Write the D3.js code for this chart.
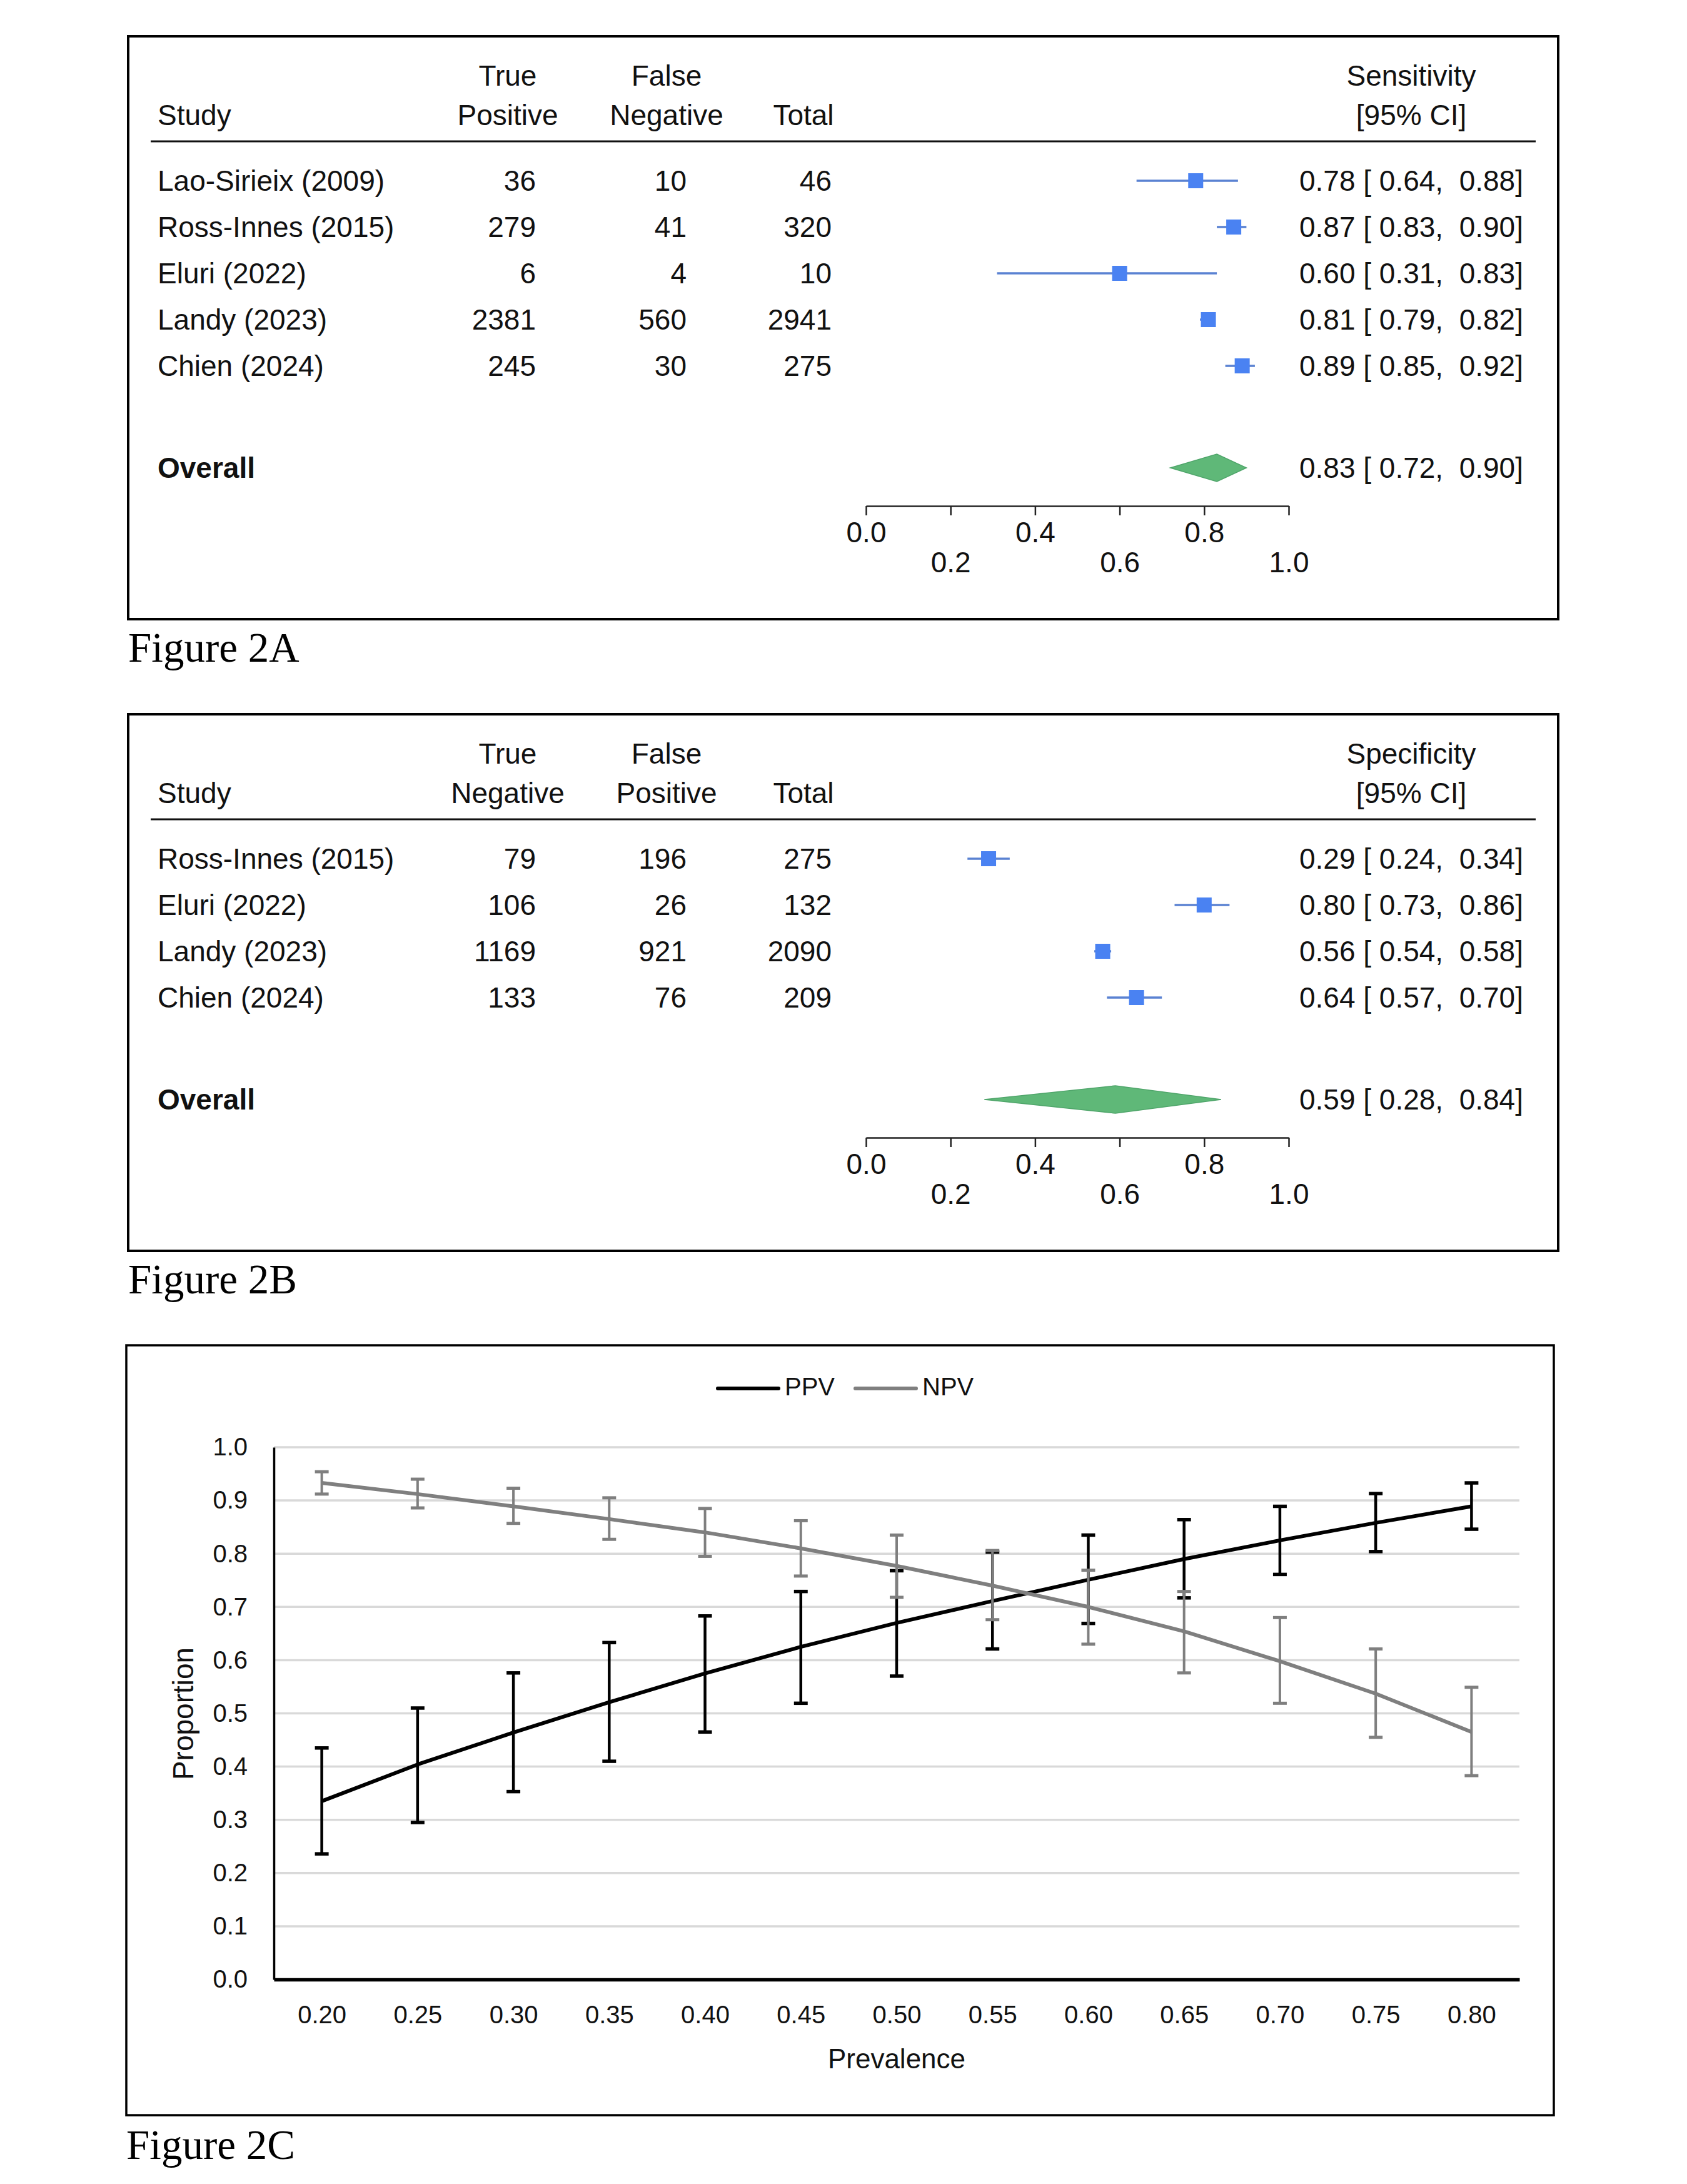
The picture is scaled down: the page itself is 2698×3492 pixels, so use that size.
<!DOCTYPE html>
<meta charset="utf-8">
<style>
body { margin: 0; background: #fff; }
svg { display: block; font-family: "Liberation Sans", Arial, Helvetica, sans-serif; }
.cell { font-size: 46px; fill: #111; }
.ci { white-space: pre; }
.caption { font-family: "Liberation Serif", "Times New Roman", serif; font-size: 67px; fill: #000; }
.faxis path, .faxis line { stroke: #222; stroke-width: 2.5px; }
.faxis text { font-size: 46px; fill: #111; }
.caxis text { font-size: 40px; fill: #111; }
</style>
<svg width="2698" height="3492"></svg>
<script src="https://d3js.org/d3.v7.min.js"></script>
<script>

// ---- Figure 2A: sensitivity ----
var sensStudies = ["Lao-Sirieix (2009)", "Ross-Innes (2015)", "Eluri (2022)", "Landy (2023)", "Chien (2024)"];
var sensTP = [36, 279, 6, 2381, 245];
var sensFN = [10, 41, 4, 560, 30];
var sensTotal = [46, 320, 10, 2941, 275];
var sensEst = [0.78, 0.87, 0.60, 0.81, 0.89];
var sensLo = [0.64, 0.83, 0.31, 0.79, 0.85];
var sensHi = [0.88, 0.90, 0.83, 0.82, 0.92];
var sensOverall = [0.83, 0.72, 0.90];

// ---- Figure 2B: specificity ----
var specStudies = ["Ross-Innes (2015)", "Eluri (2022)", "Landy (2023)", "Chien (2024)"];
var specTN = [79, 106, 1169, 133];
var specFP = [196, 26, 921, 76];
var specTotal = [275, 132, 2090, 209];
var specEst = [0.29, 0.80, 0.56, 0.64];
var specLo = [0.24, 0.73, 0.54, 0.57];
var specHi = [0.34, 0.86, 0.58, 0.70];
var specOverall = [0.59, 0.28, 0.84];

var forestTicks = [0, 0.2, 0.4, 0.6, 0.8, 1.0];

// ---- Figure 2C: PPV / NPV by prevalence ----
var prevalence = ["0.20", "0.25", "0.30", "0.35", "0.40", "0.45", "0.50", "0.55", "0.60", "0.65", "0.70", "0.75", "0.80"];
var ppv   = [0.335, 0.404, 0.464, 0.521, 0.575, 0.625, 0.670, 0.711, 0.751, 0.790, 0.825, 0.858, 0.889];
var ppvLo = [0.236, 0.295, 0.353, 0.410, 0.465, 0.519, 0.570, 0.621, 0.669, 0.717, 0.761, 0.804, 0.846];
var ppvHi = [0.435, 0.510, 0.576, 0.633, 0.683, 0.729, 0.768, 0.803, 0.835, 0.864, 0.889, 0.913, 0.933];
var npv   = [0.933, 0.912, 0.889, 0.865, 0.840, 0.810, 0.777, 0.740, 0.700, 0.654, 0.598, 0.537, 0.465];
var npvLo = [0.912, 0.886, 0.857, 0.827, 0.795, 0.758, 0.718, 0.676, 0.630, 0.576, 0.519, 0.455, 0.383];
var npvHi = [0.954, 0.940, 0.923, 0.905, 0.885, 0.862, 0.835, 0.806, 0.769, 0.729, 0.680, 0.621, 0.549];
var yTicks = [0, 0.1, 0.2, 0.3, 0.4, 0.5, 0.6, 0.7, 0.8, 0.9, 1.0];

var svg = d3.select("svg");
svg.append("rect").attr("width", 2698).attr("height", 3492).attr("fill", "#fff");

var f2 = d3.format(".2f");

function forest(top, o) {
  var g = svg.append("g");
  var header = top + 168,
      rowStep = 74,
      firstRow = header + 63,
      lastRow = firstRow + (o.studies.length - 1) * rowStep,
      overallY = lastRow + 163,
      axisY = overallY + 61,
      bottom = axisY + 181;

  var x = d3.scaleLinear().domain([0, 1]).range([1385, 2061]);

  g.append("rect")
      .attr("x", 205).attr("y", top)
      .attr("width", 2492 - 205).attr("height", bottom - top)
      .attr("fill", "none").attr("stroke", "#000").attr("stroke-width", 4);

  // headers
  var h1 = header - 89, h2 = header - 26;
  g.append("text").attr("class", "cell").attr("x", 252).attr("y", h2).text("Study");
  [[812, o.h[0]], [1066, o.h[1]]].forEach(function(c) {
    g.append("text").attr("class", "cell").attr("x", c[0]).attr("y", h1).attr("text-anchor", "middle").text(c[1][0]);
    g.append("text").attr("class", "cell").attr("x", c[0]).attr("y", h2).attr("text-anchor", "middle").text(c[1][1]);
  });
  g.append("text").attr("class", "cell").attr("x", 1285).attr("y", h2).attr("text-anchor", "middle").text("Total");
  g.append("text").attr("class", "cell").attr("x", 2257).attr("y", h1).attr("text-anchor", "middle").text(o.measure);
  g.append("text").attr("class", "cell").attr("x", 2257).attr("y", h2).attr("text-anchor", "middle").text("[95% CI]");

  g.append("line")
      .attr("x1", 241).attr("x2", 2456).attr("y1", header).attr("y2", header)
      .attr("stroke", "#111").attr("stroke-width", 3);

  var rows = o.studies.map(function(s, i) {
    return {study: s, a: o.a[i], b: o.b[i], total: o.total[i], est: o.est[i], lo: o.lo[i], hi: o.hi[i],
            y: firstRow + i * rowStep};
  });

  var r = g.selectAll(".row").data(rows).enter().append("g").attr("class", "row");
  r.append("text").attr("class", "cell").attr("x", 252).attr("y", function(d) { return d.y + 16; }).text(function(d) { return d.study; });
  r.append("text").attr("class", "cell").attr("x", 857).attr("y", function(d) { return d.y + 16; }).attr("text-anchor", "end").text(function(d) { return d.a; });
  r.append("text").attr("class", "cell").attr("x", 1098).attr("y", function(d) { return d.y + 16; }).attr("text-anchor", "end").text(function(d) { return d.b; });
  r.append("text").attr("class", "cell").attr("x", 1330).attr("y", function(d) { return d.y + 16; }).attr("text-anchor", "end").text(function(d) { return d.total; });
  r.append("line")
      .attr("x1", function(d) { return x(d.lo); })
      .attr("x2", function(d) { return x(d.hi); })
      .attr("y1", function(d) { return d.y; })
      .attr("y2", function(d) { return d.y; })
      .attr("stroke", "#5a82d2").attr("stroke-width", 3.5);
  r.append("rect")
      .attr("x", function(d) { return x(d.est) - 12; })
      .attr("y", function(d) { return d.y - 12; })
      .attr("width", 24).attr("height", 24)
      .attr("fill", "#4a82f2");
  r.append("text").attr("class", "cell ci").attr("x", 2436).attr("y", function(d) { return d.y + 16; })
      .attr("text-anchor", "end")
      .text(function(d) { return f2(d.est) + " [ " + f2(d.lo) + ",  " + f2(d.hi) + "]"; });

  // overall
  var ov = o.overall;
  g.append("text").attr("class", "cell").attr("x", 252).attr("y", overallY + 16)
      .attr("font-weight", "bold").text("Overall");
  g.append("path")
      .attr("d", "M" + x(ov[1]) + "," + overallY +
                 "L" + x(ov[0]) + "," + (overallY - 22) +
                 "L" + x(ov[2]) + "," + overallY +
                 "L" + x(ov[0]) + "," + (overallY + 22) + "Z")
      .attr("fill", "#5fb878").attr("stroke", "#4fa56a").attr("stroke-width", 1.5);
  g.append("text").attr("class", "cell ci").attr("x", 2436).attr("y", overallY + 16)
      .attr("text-anchor", "end")
      .text(f2(ov[0]) + " [ " + f2(ov[1]) + ",  " + f2(ov[2]) + "]");

  var ax = g.append("g").attr("class", "faxis")
      .attr("transform", "translate(0," + axisY + ")")
      .call(d3.axisBottom(x).tickValues(forestTicks).tickSize(15).tickSizeOuter(0).tickPadding(10).tickFormat(d3.format(".1f")));
  ax.selectAll(".tick text").attr("font-family", null).attr("font-size", null)
      .attr("y", function(d, i) { return i % 2 ? 25 + 48 : 25; });
  ax.attr("font-family", null).attr("font-size", null);

  return bottom;
}

var bA = forest(58, {studies: sensStudies, a: sensTP, b: sensFN, total: sensTotal, est: sensEst, lo: sensLo, hi: sensHi,
  overall: sensOverall, measure: "Sensitivity", h: [["True", "Positive"], ["False", "Negative"]]});
svg.append("text").attr("class", "caption").attr("x", 205).attr("y", bA + 68).text("Figure 2A");

var bB = forest(1142, {studies: specStudies, a: specTN, b: specFP, total: specTotal, est: specEst, lo: specLo, hi: specHi,
  overall: specOverall, measure: "Specificity", h: [["True", "Negative"], ["False", "Positive"]]});
svg.append("text").attr("class", "caption").attr("x", 205).attr("y", bB + 68).text("Figure 2B");

// ---- Figure 2C ----
var left = 438, right = 2430, yTop = 2314, yBot = 3165;
var gc = svg.append("g");

gc.append("rect")
    .attr("x", 202).attr("y", 2151).attr("width", 2485 - 202).attr("height", 3382 - 2151)
    .attr("fill", "none").attr("stroke", "#000").attr("stroke-width", 3.5);

var x = d3.scalePoint().domain(prevalence).range([left, right]).padding(0.5);
var y = d3.scaleLinear().domain([0, 1]).range([yBot, yTop]);

gc.append("g").selectAll("line").data(yTicks.slice(1)).enter().append("line")
    .attr("x1", left).attr("x2", right)
    .attr("y1", function(d) { return y(d); }).attr("y2", function(d) { return y(d); })
    .attr("stroke", "#d9d9d9").attr("stroke-width", 3.5);

var yAx = gc.append("g").attr("class", "caxis")
    .attr("transform", "translate(" + left + ",0)")
    .call(d3.axisLeft(y).tickValues(yTicks).tickSize(0).tickSizeOuter(0).tickPadding(42).tickFormat(d3.format(".1f")));
yAx.attr("font-family", null).attr("font-size", null);
yAx.select(".domain").attr("stroke", "#000").attr("stroke-width", 3.5);

var xAx = gc.append("g").attr("class", "caxis")
    .attr("transform", "translate(0," + yBot + ")")
    .call(d3.axisBottom(x).tickSize(0).tickSizeOuter(0).tickPadding(42));
xAx.attr("font-family", null).attr("font-size", null);
xAx.select(".domain").attr("stroke", "#000").attr("stroke-width", 5.5);

gc.append("text").attr("x", (left + right) / 2).attr("y", 3307)
    .attr("text-anchor", "middle").attr("font-size", 44).attr("fill", "#111").text("Prevalence");
gc.append("text").attr("transform", "translate(309,2740) rotate(-90)")
    .attr("text-anchor", "middle").attr("font-size", 46).attr("fill", "#111").text("Proportion");

function series(vals, lo, hi, color, lw, bw, cw) {
  var pts = prevalence.map(function(p, i) { return {p: p, v: vals[i], lo: lo[i], hi: hi[i]}; });
  var s = gc.append("g");
  s.append("path").datum(pts)
      .attr("d", d3.line().x(function(d) { return x(d.p); }).y(function(d) { return y(d.v); }))
      .attr("fill", "none").attr("stroke", color).attr("stroke-width", lw).attr("stroke-linejoin", "round");
  var eb = s.selectAll(".eb").data(pts).enter().append("g");
  eb.append("line")
      .attr("x1", function(d) { return x(d.p); }).attr("x2", function(d) { return x(d.p); })
      .attr("y1", function(d) { return y(d.lo); }).attr("y2", function(d) { return y(d.hi); })
      .attr("stroke", color).attr("stroke-width", bw);
  ["lo", "hi"].forEach(function(k) {
    eb.append("line")
        .attr("x1", function(d) { return x(d.p) - 11; }).attr("x2", function(d) { return x(d.p) + 11; })
        .attr("y1", function(d) { return y(d[k]); }).attr("y2", function(d) { return y(d[k]); })
        .attr("stroke", color).attr("stroke-width", cw);
  });
}

series(ppv, ppvLo, ppvHi, "#000", 6, 4.5, 5.5);
series(npv, npvLo, npvHi, "#7f7f7f", 6, 4, 5);

// legend
var legend = [["PPV", "#000", 1148, 1245, 1255], ["NPV", "#7f7f7f", 1368, 1465, 1475]];
legend.forEach(function(l) {
  gc.append("line").attr("x1", l[2]).attr("x2", l[3]).attr("y1", 2220).attr("y2", 2220)
      .attr("stroke", l[1]).attr("stroke-width", 6).attr("stroke-linecap", "round");
  gc.append("text").attr("x", l[4]).attr("y", 2231).attr("font-size", 40).attr("fill", "#111").text(l[0]);
});

svg.append("text").attr("class", "caption").attr("x", 202).attr("y", 3452).text("Figure 2C");

</script>
